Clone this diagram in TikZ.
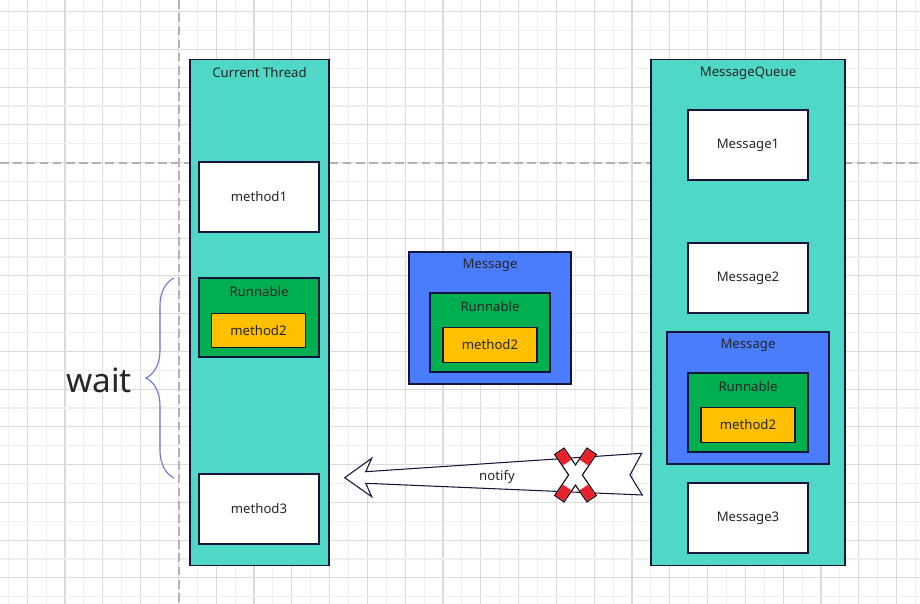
\documentclass[tikz,border=0pt]{standalone}
\usepackage{fontspec}
\setmainfont{Noto Sans}
\usepackage{xcolor}
\usepackage{tikz}
\usetikzlibrary{positioning, decorations.pathreplacing}
\definecolor{threadteal}{HTML}{4FD8C5}
\definecolor{msgblue}{HTML}{4A7DFD}
\definecolor{rungreen}{HTML}{00AF50}
\definecolor{methyellow}{HTML}{FFC000}
\definecolor{edgenavy}{HTML}{14143C}
\definecolor{labeldark}{HTML}{262626}
\definecolor{gridlight}{HTML}{EEEEEE}
\definecolor{griddark}{HTML}{DADADA}
\definecolor{bracepurple}{HTML}{6272D8}
\definecolor{crossred}{HTML}{E8202A}

\begin{document}
\begin{tikzpicture}[
  x=0.02cm, y=-0.02cm,
  every node/.style={font=\fontsize{7.5}{9}\selectfont, text=labeldark},
  column/.style={draw=edgenavy, line width=0.6pt, fill=threadteal, minimum width=#1, minimum height=10.14cm, inner sep=0pt},
  method/.style={draw=edgenavy, line width=0.6pt, fill=white, minimum width=2.4cm, minimum height=1.4cm, inner sep=0pt},
  msgbox/.style={draw=edgenavy, line width=0.6pt, fill=msgblue, minimum width=3.24cm, minimum height=2.64cm, inner sep=0pt},
  runbox/.style={draw=edgenavy, line width=0.6pt, fill=rungreen, minimum width=2.4cm, minimum height=1.58cm, inner sep=0pt},
  callbox/.style={draw=edgenavy, line width=0.6pt, fill=methyellow, minimum width=1.88cm, minimum height=0.69cm, inner sep=0pt},
  title/.style={inner sep=0pt},
]
  \useasboundingbox (0,0) rectangle (920,604);

  % background grid
  \foreach \i in {0,...,24} {
    \draw[gridlight, line width=0.6pt] ({8.3+37.8*\i},0) -- ++(0,604);
    \draw[griddark, line width=0.6pt] ({27.2+37.8*\i},0) -- ++(0,604);
  }
  \foreach \j in {0,...,16} {
    \draw[gridlight, line width=0.6pt] (0,{30.5+37.75*\j}) -- ++(920,0);
    \draw[griddark, line width=0.6pt] (0,{11.7+37.75*\j}) -- ++(920,0);
  }
  \draw[gray!60, line width=0.6pt, dash pattern=on 5pt off 2.5pt] (179,0) -- (179,604);
  \draw[gray!60, line width=0.6pt, dash pattern=on 5pt off 2.5pt] (0,163) -- (920,163);

  % current thread
  \node[column=2.78cm] (thread) at (259.5,312.5) {};
  \node[title] (threadtitle) at (259.5,73) {Current Thread};
  \node[method] (m1) at (259,197) {method1};
  \node[runbox] (run1) at (259,317.5) {};
  \node[title] (run1title) at (259,292) {Runnable};
  \node[callbox] (m2a) at (258.5,330.5) {method2};
  \node[method] (m3) at (259,509) {method3};

  % wait brace
  \coordinate (wbot) at (174,478);
  \coordinate (wtop) at (174,278);
  \draw[bracepurple, line width=0.6pt, decorate, decoration={brace, amplitude=0.56cm}] (wbot) -- (wtop);
  \node[font=\fontsize{19}{22}\selectfont] (wait) at (99,380) {wait};

  % message in transit
  \node[msgbox] (msgmid) at (490,318) {};
  \node[title] (msgmidtitle) at (490,265) {Message};
  \node[runbox] (runmid) at (490,332.5) {};
  \node[title] (runmidtitle) at (490,307) {Runnable};
  \node[callbox] (m2b) at (490,345) {method2};

  % message queue
  \node[column=3.88cm] (queue) at (748,312.5) {};
  \node[title] (queuetitle) at (748,73) {MessageQueue};
  \node[method] (msg1) at (748,145) {Message1};
  \node[method] (msg2) at (748,278) {Message2};
  \node[msgbox] (msgq) at (748,398) {};
  \node[title] (msgqtitle) at (748,345) {Message};
  \node[runbox] (runq) at (748,412.5) {};
  \node[title] (runqtitle) at (748,387) {Runnable};
  \node[callbox] (m2c) at (748,425) {method2};
  \node[method] (msg3) at (748,518) {Message3};

  % notify arrow
  \draw[edgenavy, fill=white, line width=0.6pt, line join=miter]
    (344.7,477.7) -- (371.7,458.3) -- (365.7,471.7) -- (641.7,453.3) -- (630,475)
    -- (642.3,495) -- (365.7,483.3) -- (371.7,496.7) -- cycle;
  \node (notify) at (497,477) {notify};

  % crossed out
  \foreach \a in {-55.8,55.8} {
    \begin{scope}[shift={(575.5,475)}, rotate=\a]
      \draw[black, line width=1.4pt] (-28,-5) rectangle (28,5);
    \end{scope}
  }
  \foreach \a in {-55.8,55.8} {
    \begin{scope}[shift={(575.5,475)}, rotate=\a]
      \fill[white] (-28,-5) rectangle (28,5);
      \fill[crossred] (-28,-5) rectangle (-15,5);
      \fill[crossred] (15,-5) rectangle (28,5);
    \end{scope}
  }
\end{tikzpicture}
\end{document}
